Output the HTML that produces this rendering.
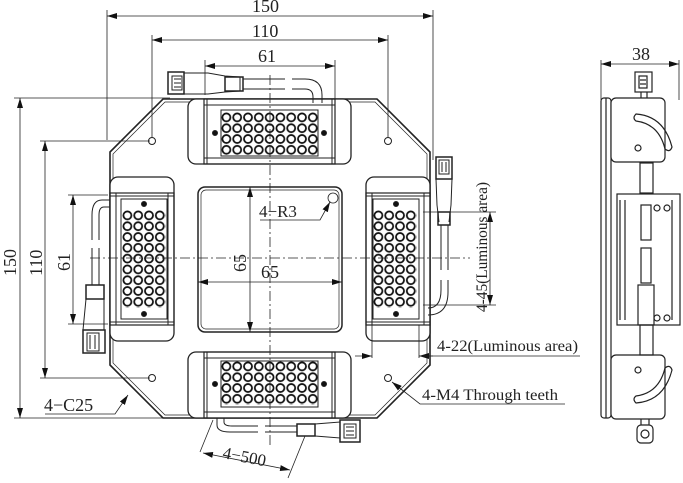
<!DOCTYPE html>
<html><head><meta charset="utf-8"><style>
html,body{margin:0;padding:0;background:#fff;}
svg{display:block;}
text{font-family:"Liberation Serif",serif;fill:#222;}
</style></head><body>
<svg width="683" height="483" viewBox="0 0 683 483" xmlns="http://www.w3.org/2000/svg">
<defs>
<pattern id="ledH" x="221" y="112" width="10.8" height="10.8" patternUnits="userSpaceOnUse">
<circle cx="5.4" cy="5.4" r="4" fill="#fff" stroke="#111" stroke-width="1.8"/></pattern>
<pattern id="ledV" x="122" y="210" width="10.8" height="10.8" patternUnits="userSpaceOnUse">
<circle cx="5.4" cy="5.4" r="4" fill="#fff" stroke="#111" stroke-width="1.8"/></pattern>
<pattern id="ledV2" x="373" y="210" width="10.8" height="10.8" patternUnits="userSpaceOnUse">
<circle cx="5.4" cy="5.4" r="4" fill="#fff" stroke="#111" stroke-width="1.8"/></pattern>
<pattern id="ledH2" x="221" y="361" width="10.8" height="10.8" patternUnits="userSpaceOnUse">
<circle cx="5.4" cy="5.4" r="4" fill="#fff" stroke="#111" stroke-width="1.8"/></pattern>
<marker id="ar" markerWidth="10" markerHeight="6" refX="10" refY="3" orient="auto-start-reverse" markerUnits="userSpaceOnUse">
<path d="M0,0 L10,3 L0,6 z" fill="#111"/></marker>
</defs>
<g fill="none" stroke="#222" stroke-width="1">
<path d="M163,99 L377,99 L430,152 L430,365 L377,418 L163,418 L110,365 L110,152 Z" stroke-width="1.6"/>
<path d="M165,102 L375,102 L427,154 L427,363 L375,415 L165,415 L113,363 L113,154 Z" stroke-width="0.7"/>
<rect x="198" y="187" width="144" height="145" rx="7" stroke-width="1.5"/>
<rect x="201" y="190" width="138" height="139" rx="5" stroke-width="0.7"/>
<!-- top module -->
<rect x="188" y="99" width="163" height="65" rx="8" fill="#fff" stroke-width="1.3"/>
<rect x="204" y="99" width="131" height="65" stroke-width="1.2"/>
<line x1="207" y1="99" x2="207" y2="164"/><line x1="332" y1="99" x2="332" y2="164"/>
<line x1="204" y1="105" x2="335" y2="105"/><line x1="204" y1="158" x2="335" y2="158"/>
<rect x="221" y="110" width="97" height="46"/>
<rect x="221" y="112" width="97" height="44" fill="url(#ledH)" stroke="none"/>
<circle cx="215" cy="133" r="2.5" fill="#111"/><circle cx="324" cy="133" r="2.5" fill="#111"/>
<!-- bottom module -->
<rect x="188" y="352" width="163" height="66" rx="8" fill="#fff" stroke-width="1.3"/>
<rect x="204" y="352" width="131" height="66" stroke-width="1.2"/>
<line x1="207" y1="352" x2="207" y2="418"/><line x1="332" y1="352" x2="332" y2="418"/>
<line x1="204" y1="358" x2="335" y2="358"/><line x1="204" y1="412" x2="335" y2="412"/>
<rect x="221" y="361" width="97" height="46"/>
<rect x="221" y="361" width="97" height="44" fill="url(#ledH2)" stroke="none"/>
<circle cx="215" cy="384" r="2.5" fill="#111"/><circle cx="324" cy="384" r="2.5" fill="#111"/>
<!-- left module -->
<rect x="110" y="177" width="64" height="164" rx="8" fill="#fff" stroke-width="1.3"/>
<rect x="110" y="193" width="64" height="132" stroke-width="1.2"/>
<line x1="110" y1="196" x2="174" y2="196"/><line x1="110" y1="322" x2="174" y2="322"/>
<line x1="116" y1="193" x2="116" y2="325"/><line x1="168" y1="193" x2="168" y2="325"/>
<rect x="121" y="199" width="46" height="120"/>
<rect x="122" y="210" width="44" height="98" fill="url(#ledV)" stroke="none"/>
<circle cx="144" cy="204" r="2.5" fill="#111"/><circle cx="144" cy="314" r="2.5" fill="#111"/>
<!-- right module -->
<rect x="366" y="177" width="64" height="164" rx="8" fill="#fff" stroke-width="1.3"/>
<rect x="366" y="193" width="64" height="132" stroke-width="1.2"/>
<line x1="366" y1="196" x2="430" y2="196"/><line x1="366" y1="322" x2="430" y2="322"/>
<line x1="372" y1="193" x2="372" y2="325"/><line x1="424" y1="193" x2="424" y2="325"/>
<rect x="373" y="199" width="46" height="120"/>
<rect x="373" y="210" width="44" height="98" fill="url(#ledV2)" stroke="none"/>
<circle cx="396" cy="204" r="2.5" fill="#111"/><circle cx="396" cy="314" r="2.5" fill="#111"/>
<circle cx="152" cy="141" r="3.5"/><circle cx="388" cy="141" r="3.5"/>
<circle cx="152" cy="378" r="3.5"/><circle cx="388" cy="378" r="3.5"/>
<!-- top cable -->
<rect x="168" y="72" width="16" height="22" stroke-width="1.5"/>
<rect x="172" y="76" width="10" height="14"/><line x1="174" y1="79" x2="181" y2="79"/><line x1="174" y1="83" x2="181" y2="83"/><line x1="174" y1="87" x2="181" y2="87"/>
<path d="M184,73 L208,73 L225,76 L240,77 L240,91 L225,92 L208,94 L184,94"/>
<rect x="225" y="77" width="18" height="14" stroke-width="1.5"/>
<path d="M243,79 L285,79 M243,89 L285,89 M292,79 L305,79 Q322,79 322,95 L322,103 M292,89 L305,89 Q313,89 313,97 L313,103"/>
<!-- right cable -->
<rect x="436" y="157" width="16" height="22" stroke-width="1.5"/>
<rect x="439" y="160" width="10" height="14"/><line x1="442" y1="162" x2="442" y2="172"/><line x1="446" y1="162" x2="446" y2="172"/>
<path d="M436,179 L437,205 L439,222 M452,179 L451,205 L449,222"/>
<rect x="438" y="212" width="12" height="13" stroke-width="1.5"/>
<path d="M441,225 L441,270 M448,225 L448,270 M441,280 L441,290 Q441,308 428,308 M448,280 L448,292 Q448,315 428,315"/>
<!-- left cable -->
<path d="M110,200 L102,200 Q92,200 92,215 L92,240 M110,207 L104,207 Q99,207 99,215 L99,240 M92,248 L92,285 M99,248 L99,285"/>
<rect x="86" y="285" width="18" height="14" stroke-width="1.5"/>
<path d="M86,299 L83,330 L104,330 L104,299"/>
<rect x="83" y="330" width="22" height="23" stroke-width="1.5"/>
<rect x="87" y="333" width="12" height="18"/><line x1="90" y1="335" x2="90" y2="349"/><line x1="95" y1="335" x2="95" y2="349"/>
<!-- bottom cable -->
<path d="M217,418 L217,425 Q217,432 230,432 L258,432 M224,418 L224,422 Q224,426 232,426 L258,426 M265,426 L297,426 M265,432 L297,432"/>
<rect x="297" y="424" width="18" height="12" stroke-width="1.5"/>
<path d="M315,424 L340,422 L340,438 L315,436"/>
<rect x="340" y="420" width="20" height="22" stroke-width="1.5"/>
<rect x="344" y="424" width="12" height="14"/><line x1="346" y1="427" x2="354" y2="427"/><line x1="346" y1="431" x2="354" y2="431"/><line x1="346" y1="435" x2="354" y2="435"/>
<g stroke-dasharray="10,3,2,3" stroke-width="0.8">
<line x1="270" y1="75" x2="270" y2="445"/>
<line x1="90" y1="258" x2="470" y2="258"/>
</g>
<g stroke-width="0.8">
<line x1="107" y1="10" x2="107" y2="140"/><line x1="433" y1="10" x2="433" y2="160"/>
<line x1="107" y1="16" x2="433" y2="16" marker-start="url(#ar)" marker-end="url(#ar)"/>
<line x1="152" y1="35" x2="152" y2="138"/><line x1="388" y1="35" x2="388" y2="138"/>
<line x1="152" y1="40" x2="388" y2="40" marker-start="url(#ar)" marker-end="url(#ar)"/>
<line x1="205" y1="60" x2="205" y2="95"/><line x1="335" y1="60" x2="335" y2="100"/>
<line x1="205" y1="66" x2="335" y2="66" marker-start="url(#ar)" marker-end="url(#ar)"/>
<line x1="14" y1="98" x2="170" y2="98"/><line x1="14" y1="418" x2="165" y2="418"/>
<line x1="20" y1="98" x2="20" y2="418" marker-start="url(#ar)" marker-end="url(#ar)"/>
<line x1="40" y1="141" x2="150" y2="141"/><line x1="40" y1="378" x2="150" y2="378"/>
<line x1="45" y1="141" x2="45" y2="378" marker-start="url(#ar)" marker-end="url(#ar)"/>
<line x1="68" y1="195" x2="108" y2="195"/><line x1="68" y1="324" x2="108" y2="324"/>
<line x1="73" y1="195" x2="73" y2="324" marker-start="url(#ar)" marker-end="url(#ar)"/>
<line x1="250" y1="187" x2="250" y2="332" marker-start="url(#ar)" marker-end="url(#ar)"/>
<line x1="198" y1="282" x2="342" y2="282" marker-start="url(#ar)" marker-end="url(#ar)"/>
<line x1="423" y1="212" x2="496" y2="212"/><line x1="423" y1="305" x2="496" y2="305"/>
<line x1="490" y1="212" x2="490" y2="305" marker-start="url(#ar)" marker-end="url(#ar)"/>
<line x1="372" y1="325" x2="372" y2="358"/><line x1="419" y1="325" x2="419" y2="358"/>
<line x1="355" y1="356" x2="372" y2="356" marker-end="url(#ar)"/>
<line x1="433" y1="356" x2="419" y2="356" marker-end="url(#ar)"/>
<line x1="419" y1="356" x2="580" y2="356"/>
<path d="M260,220 L320,220 L330,202" marker-end="url(#ar)"/>
<circle cx="333" cy="198" r="5"/>
<path d="M565,404 L420,404 L392,382" marker-end="url(#ar)"/>
<path d="M45,414 L115,414 L128,395" marker-end="url(#ar)"/>
<line x1="213" y1="420" x2="200" y2="452"/><line x1="305" y1="436" x2="288" y2="478"/>
<line x1="203" y1="453" x2="290" y2="470" marker-start="url(#ar)" marker-end="url(#ar)"/>
<line x1="601" y1="60" x2="601" y2="100"/><line x1="679" y1="60" x2="679" y2="100"/>
<line x1="601" y1="64" x2="679" y2="64" marker-start="url(#ar)" marker-end="url(#ar)"/>
</g>
<!-- side view -->
<g stroke-width="1.2">
<rect x="601" y="98" width="10" height="320" rx="3"/>
<line x1="606" y1="98" x2="606" y2="418"/>
<line x1="611" y1="152" x2="632" y2="152"/><line x1="611" y1="365" x2="632" y2="365"/>
<rect x="617" y="194" width="63" height="131"/>
<line x1="620" y1="200" x2="620" y2="320"/><line x1="625" y1="200" x2="625" y2="320"/><line x1="672" y1="200" x2="672" y2="320"/>
<rect x="611" y="98" width="54" height="64" rx="5" fill="#fff"/>
<rect x="611" y="355" width="54" height="64" rx="5" fill="#fff"/>
<path d="M636,114 Q664,116 672,147 Q670,153 665,149 Q659,124 636,121 Q632,118 636,114 Z"/>
<path d="M636,403 Q664,401 672,370 Q670,364 665,368 Q659,393 636,396 Q632,399 636,403 Z"/>
<circle cx="638" cy="148" r="3"/><circle cx="638" cy="370" r="3"/>
<rect x="640" y="163" width="13" height="30"/><rect x="640" y="325" width="13" height="30"/>
<rect x="641" y="205" width="10" height="35"/><rect x="641" y="248" width="10" height="35"/>
<rect x="638" y="285" width="16" height="40"/>
<circle cx="657" cy="208" r="3"/><circle cx="667" cy="208" r="3"/>
<circle cx="657" cy="318" r="3"/><circle cx="667" cy="318" r="3"/>
<rect x="635" y="72" width="17" height="20" fill="#fff"/>
<rect x="639" y="76" width="8" height="12"/><line x1="640" y1="80" x2="646" y2="80"/><line x1="640" y1="84" x2="646" y2="84"/>
<line x1="641" y1="92" x2="641" y2="98"/><line x1="647" y1="92" x2="647" y2="98"/>
<rect x="637" y="425" width="16" height="18" rx="4"/>
<circle cx="645" cy="434" r="4"/>
<line x1="641" y1="419" x2="641" y2="425"/><line x1="649" y1="419" x2="649" y2="425"/>
</g>
</g>
<g font-size="18">
<text x="252" y="12">150</text>
<text x="252" y="37">110</text>
<text x="258" y="62">61</text>
<text x="632" y="60">38</text>
<text x="259" y="217" font-size="17">4−R3</text>
<text x="261" y="278">65</text>
<text transform="translate(246,272) rotate(-90)">65</text>
<text transform="translate(16,276) rotate(-90)">150</text>
<text transform="translate(42,276) rotate(-90)">110</text>
<text transform="translate(70,271) rotate(-90)">61</text>
<text transform="translate(487,312) rotate(-90)" font-size="16" textLength="130" lengthAdjust="spacingAndGlyphs">4-45(Luminous area)</text>
<text x="437" y="351" font-size="16" textLength="141" lengthAdjust="spacingAndGlyphs">4-22(Luminous area)</text>
<text x="422" y="400" font-size="16" textLength="136" lengthAdjust="spacingAndGlyphs">4-M4 Through teeth</text>
<text x="44" y="411">4−C25</text>
<text transform="translate(222,458) rotate(11)" font-size="17">4−500</text>
</g>
</svg>
</body></html>
